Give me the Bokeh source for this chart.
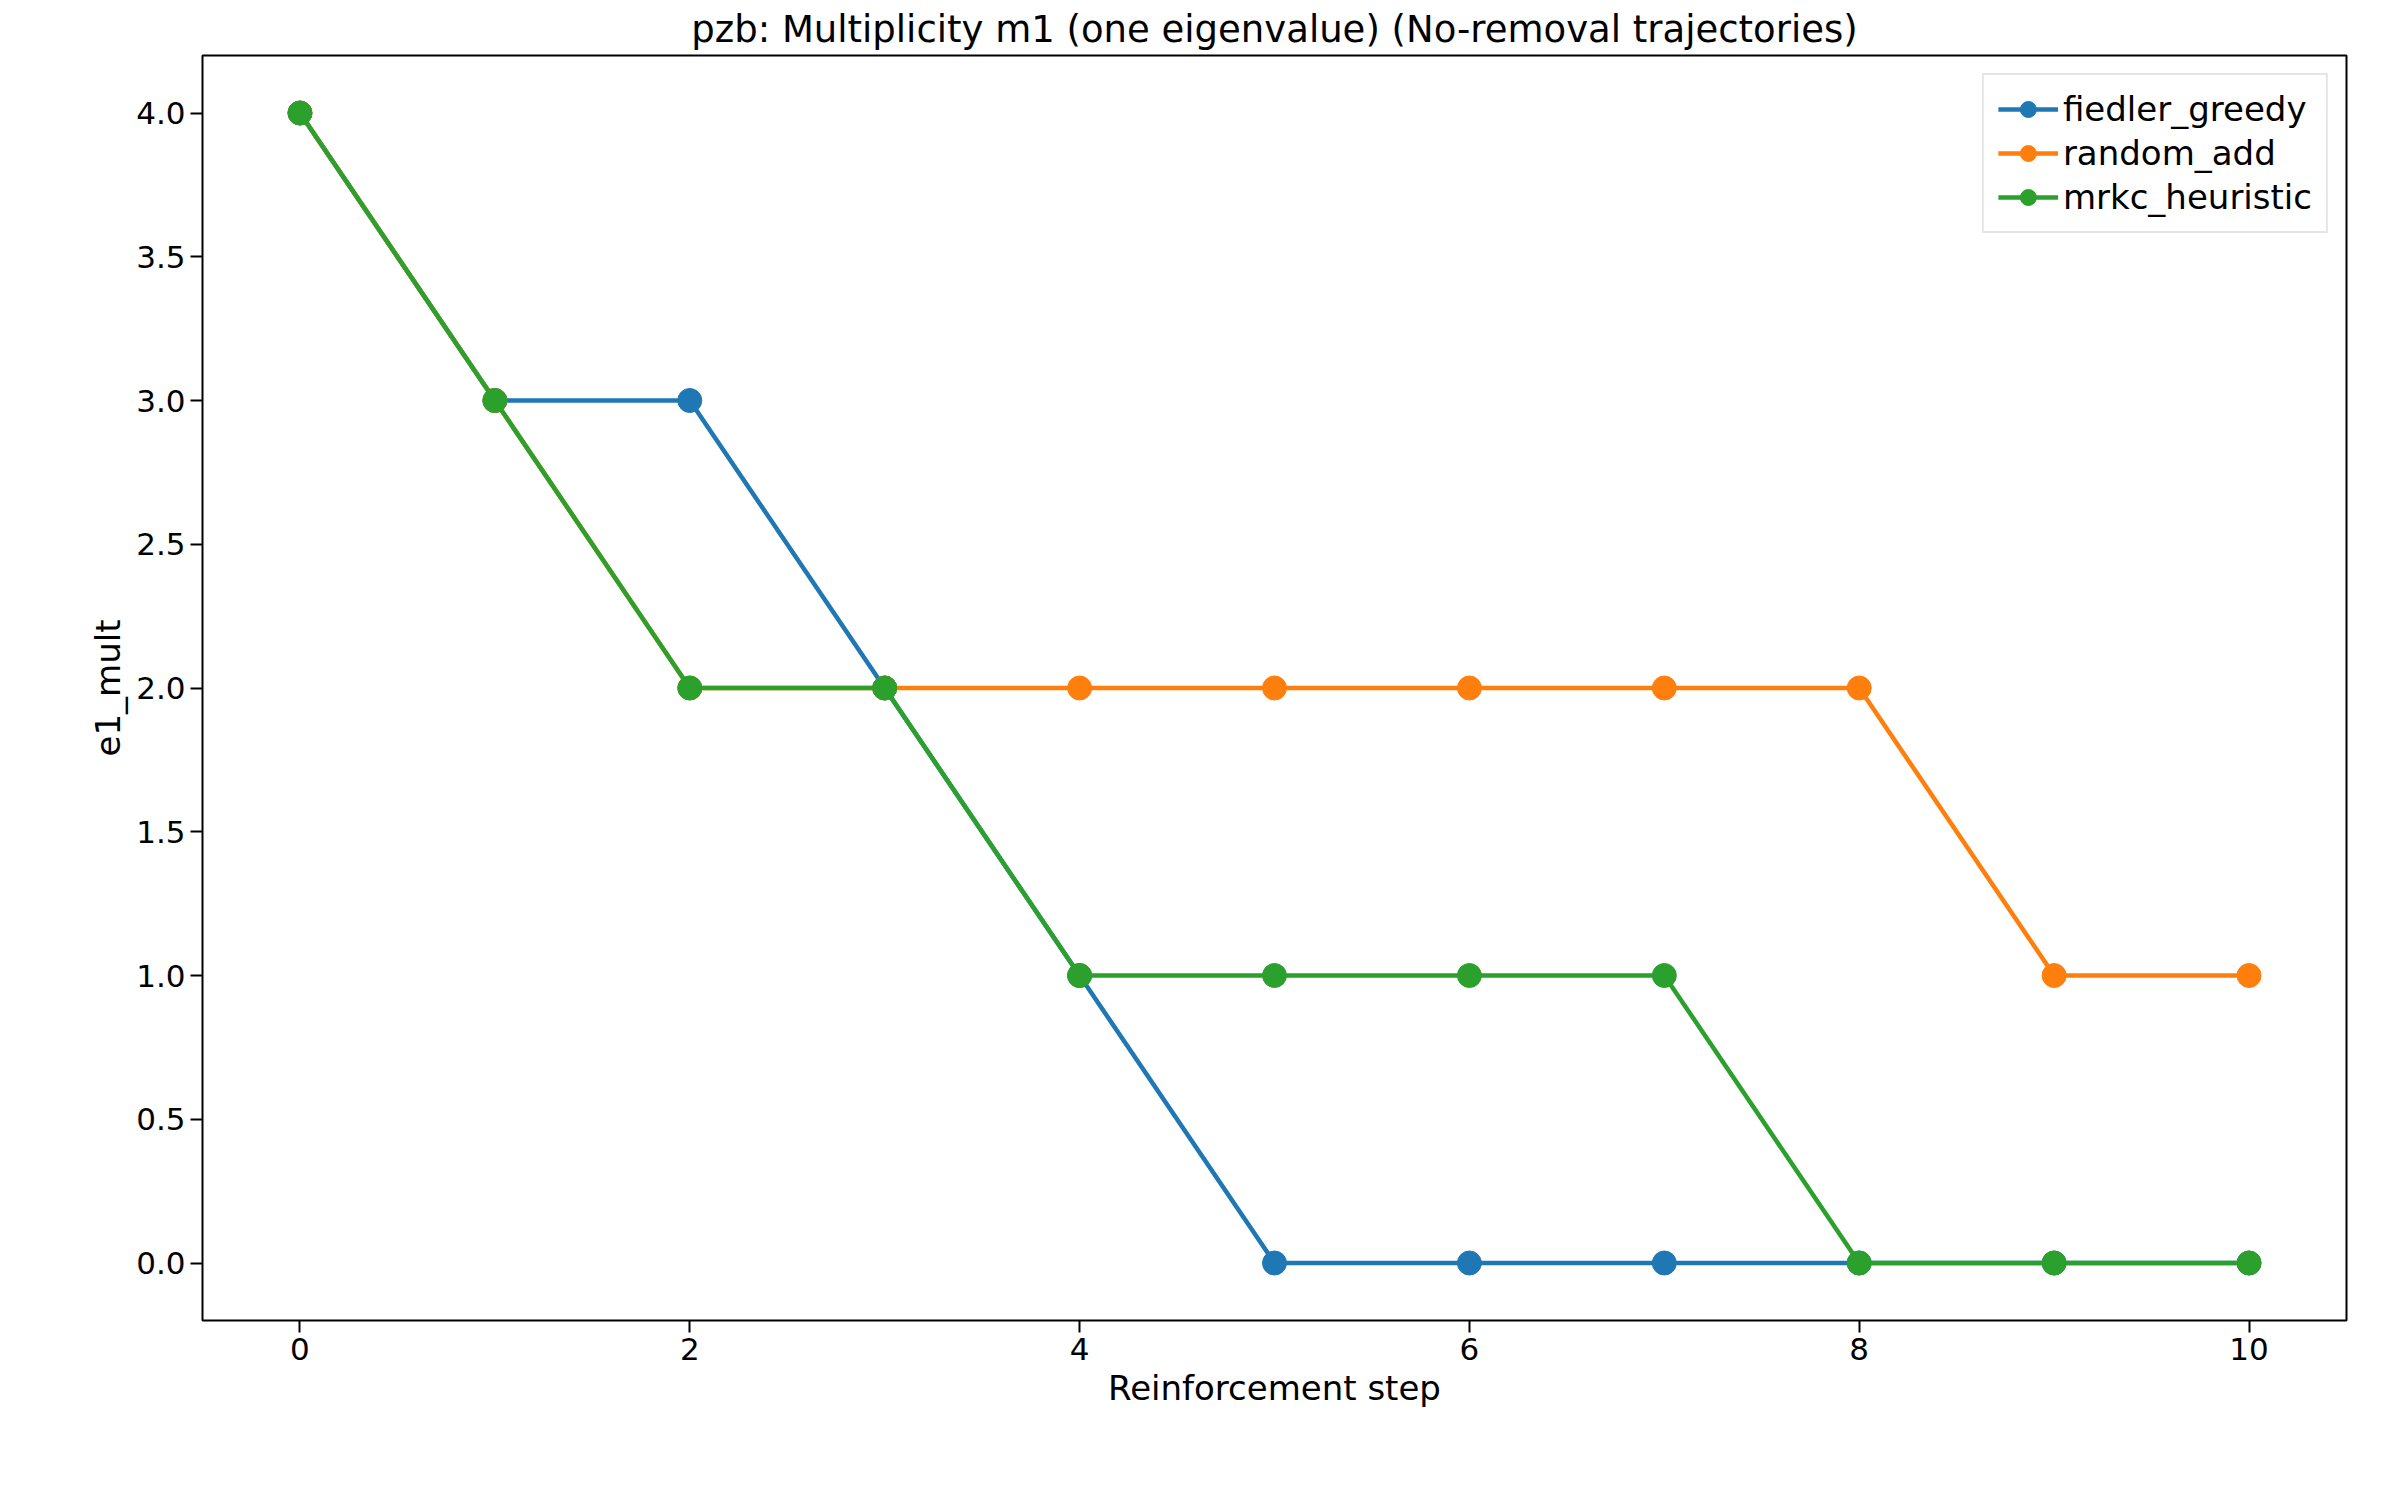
from bokeh.plotting import figure
from bokeh.models import Range1d, NumeralTickFormatter, Legend, LegendItem
from bokeh.embed import file_html
from bokeh.resources import INLINE

steps = [0, 1, 2, 3, 4, 5, 6, 7, 8, 9, 10]
fiedler_greedy = [4, 3, 3, 2, 1, 0, 0, 0, 0, 0, 0]
random_add = [4, 3, 2, 2, 2, 2, 2, 2, 2, 1, 1]
mrkc_heuristic = [4, 3, 2, 2, 1, 1, 1, 1, 0, 0, 0]

series = [
    ("fiedler_greedy", fiedler_greedy, "#1f77b4"),
    ("random_add", random_add, "#ff7f0e"),
    ("mrkc_heuristic", mrkc_heuristic, "#2ca02c"),
]

FONT = "DejaVu Sans"

p = figure(width=2380, height=1480, output_backend="svg", toolbar_location=None,
           title="pzb: Multiplicity m1 (one eigenvalue) (No-removal trajectories)",
           x_range=Range1d(-0.5, 10.5), y_range=Range1d(-0.2, 4.2),
           min_border_left=202, min_border_right=34, min_border_bottom=160, min_border_top=50)
p.title.align = "center"
p.title.text_font = FONT
p.title.text_font_size = "37px"
p.title.text_font_style = "normal"
p.title.text_color = "black"
p.xgrid.visible = False
p.ygrid.visible = False
p.outline_line_color = "black"
p.outline_line_width = 2

p.xaxis.ticker = [0, 2, 4, 6, 8, 10]
p.yaxis.ticker = [0, 0.5, 1, 1.5, 2, 2.5, 3, 3.5, 4]
p.yaxis.formatter = NumeralTickFormatter(format="0.0")
p.xaxis.axis_label = "Reinforcement step"
p.yaxis.axis_label = "e1_mult"
for ax in (p.xaxis, p.yaxis):
    ax.axis_label_text_font = FONT
    ax.axis_label_text_font_size = "34px"
    ax.axis_label_text_font_style = "normal"
    ax.axis_label_text_color = "black"
    ax.major_label_text_font = FONT
    ax.major_label_text_font_size = "31px"
    ax.major_label_text_color = "black"
    ax.minor_tick_line_color = None
    ax.axis_line_color = None
    ax.major_tick_out = 12
    ax.major_tick_in = 0
    ax.major_tick_line_width = 2

items = []
for name, ys, color in series:
    r1 = p.line(steps, ys, color=color, line_width=4.5)
    r2 = p.scatter(steps, ys, color=color, size=24)
    items.append(LegendItem(label=name, renderers=[r1, r2]))

legend = Legend(items=items, location="top_right", label_text_font=FONT,
                label_text_font_size="34px", border_line_color="#cccccc",
                border_line_width=2, glyph_width=60, glyph_height=40,
                padding=14, spacing=4, margin=18, label_text_color="black")
p.add_layout(legend)

open("out.html", "w").write(file_html(p, INLINE))
